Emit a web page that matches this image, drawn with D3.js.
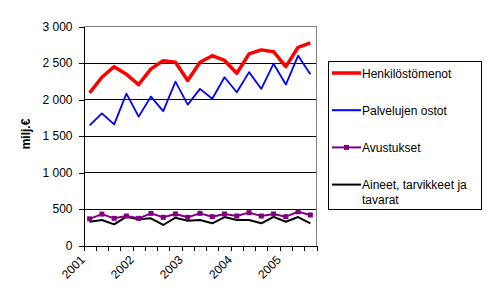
<!DOCTYPE html>
<html>
<head>
<meta charset="utf-8">
<script src="https://cdn.jsdelivr.net/npm/d3@7"></script>
<style>
  body { margin: 0; background: #fff; }
  text { font-family: Arial, "Liberation Sans", sans-serif; }
</style>
</head>
<body>
<svg></svg>
<script>

// quarterly data 2001 Q1 .. 2005 Q3, milj. €
var quarters = ["2001Q1","2001Q2","2001Q3","2001Q4",
                "2002Q1","2002Q2","2002Q3","2002Q4",
                "2003Q1","2003Q2","2003Q3","2003Q4",
                "2004Q1","2004Q2","2004Q3","2004Q4",
                "2005Q1","2005Q2","2005Q3"];
var years = ["2001","2002","2003","2004","2005"];
var yTicks = [0, 500, 1000, 1500, 2000, 2500, 3000];

var henkilostomenot = [2090, 2305, 2450, 2345, 2205, 2420, 2530, 2510, 2260, 2510,
                       2600, 2535, 2360, 2625, 2680, 2655, 2450, 2715, 2775];
var palvelujenOstot = [1645, 1810, 1660, 2080, 1765, 2040, 1840, 2245, 1930, 2145,
                       2010, 2305, 2100, 2375, 2145, 2490, 2205, 2600, 2345];
var avustukset      = [365, 430, 372, 404, 372, 440, 386, 432, 386, 440,
                       395, 432, 404, 450, 404, 432, 395, 462, 418];
var aineet          = [326, 349, 290, 395, 359, 372, 281, 381, 340, 349,
                       304, 390, 349, 349, 304, 392, 326, 390, 304];

var seriesNames = ["Henkilöstömenot", "Palvelujen ostot", "Avustukset", "Aineet, tarvikkeet ja tavarat"];

var width = 490, height = 300;
var svg = d3.select("svg").attr("width", width).attr("height", height);

var plotLeft = 83.5, plotRight = 316.5, plotTop = 26.5, plotBottom = 245.5;

var x = d3.scaleBand().domain(quarters).range([plotLeft, plotRight]);
var xt = d3.scaleLinear().domain([0, quarters.length]).range([plotLeft, plotRight]);
var y = d3.scaleLinear().domain([0, 3000]).range([plotBottom, plotTop]);

var fmt = d3.formatLocale({decimal: ",", thousands: " ", grouping: [3], currency: ["", "€"]}).format(",d");

// gridlines
svg.append("g")
  .selectAll("line")
  .data(yTicks.slice(1, -1)).enter()
  .append("line")
    .attr("x1", plotLeft).attr("x2", plotRight)
    .attr("y1", function(d) { return y(d); })
    .attr("y2", function(d) { return y(d); })
    .attr("stroke", "#000")
    .attr("shape-rendering", "crispEdges");

// plot area border (top + right gray)
svg.append("path")
  .attr("d", "M" + plotLeft + "," + plotTop + "H" + plotRight + "V" + plotBottom)
  .attr("fill", "none")
  .attr("stroke", "#808080")
  .attr("shape-rendering", "crispEdges");

// y axis
var yAxis = svg.append("g")
  .attr("transform", "translate(" + plotLeft + ",0)")
  .call(d3.axisLeft(y).tickValues(yTicks).tickSizeInner(5).tickSizeOuter(0).tickPadding(6).tickFormat(fmt));
yAxis.selectAll("path, line").attr("stroke", "#000").attr("shape-rendering", "crispEdges");
yAxis.selectAll("text").attr("font-size", 12).attr("fill", "#000")
  .attr("font-family", "Arial, 'Liberation Sans', sans-serif");

// x axis ticks at category boundaries
var xAxis = svg.append("g")
  .attr("transform", "translate(0," + plotBottom + ")")
  .call(d3.axisBottom(xt).tickValues(d3.range(quarters.length + 1)).tickSizeInner(5).tickSizeOuter(0).tickFormat(""));
xAxis.selectAll("path, line").attr("stroke", "#000").attr("shape-rendering", "crispEdges");

// year labels, rotated
svg.append("g")
  .selectAll("text")
  .data(years).enter()
  .append("text")
    .attr("transform", function(d, i) {
      var cx = x(quarters[i * 4]) + x.bandwidth() / 2 - 4;
      return "translate(" + cx + "," + (plotBottom + 15) + ") rotate(-45)";
    })
    .attr("text-anchor", "end")
    .attr("font-size", 12)
    .attr("fill", "#000")
    .text(function(d) { return d; });

// y axis title
svg.append("text")
  .attr("transform", "translate(30,134) rotate(-90)")
  .attr("text-anchor", "middle")
  .attr("font-size", 12)
  .attr("font-weight", "bold")
  .text("milj.€");

var line = d3.line()
  .x(function(d, i) { return x(quarters[i]) + x.bandwidth() / 2; })
  .y(function(d) { return y(d); });

var series = [
  {name: seriesNames[0], values: henkilostomenot, color: "#ff0000", width: 3.5},
  {name: seriesNames[1], values: palvelujenOstot, color: "#0000ff", width: 1.8},
  {name: seriesNames[3], values: aineet, color: "#000000", width: 2},
  {name: seriesNames[2], values: avustukset, color: "#800080", width: 2, markers: true}
];

series.forEach(function(s) {
  svg.append("path")
    .datum(s.values)
    .attr("fill", "none")
    .attr("stroke", s.color)
    .attr("stroke-width", s.width)
    .attr("stroke-linejoin", "round")
    .attr("d", line);
  if (s.markers) {
    svg.append("g")
      .selectAll("rect")
      .data(s.values).enter()
      .append("rect")
        .attr("x", function(d, i) { return x(quarters[i]) + x.bandwidth() / 2 - 2.5; })
        .attr("y", function(d) { return y(d) - 2.5; })
        .attr("width", 5).attr("height", 5)
        .attr("fill", s.color);
  }
});

// legend
var legend = svg.append("g").attr("class", "legend");
legend.append("rect")
  .attr("x", 328.5).attr("y", 61.5)
  .attr("width", 153).attr("height", 148)
  .attr("fill", "#fff").attr("stroke", "#000");

var legendItems = [
  {lines: [seriesNames[0]], color: "#ff0000", width: 3.5},
  {lines: [seriesNames[1]], color: "#0000ff", width: 2},
  {lines: [seriesNames[2]], color: "#800080", width: 2, markers: true},
  {lines: ["Aineet, tarvikkeet ja", "tavarat"], color: "#000000", width: 2}
];

legendItems.forEach(function(d, i) {
  var ly = 73 + i * 37.2;
  var g = legend.append("g");
  g.append("line")
    .attr("x1", 332).attr("x2", 361)
    .attr("y1", ly).attr("y2", ly)
    .attr("stroke", d.color).attr("stroke-width", d.width);
  if (d.markers) {
    g.append("rect").attr("x", 344).attr("y", ly - 2.5).attr("width", 5).attr("height", 5).attr("fill", d.color);
  }
  d.lines.forEach(function(t, j) {
    g.append("text")
      .attr("x", 362).attr("y", ly + 4.5 + j * 15)
      .attr("font-size", 12)
      .text(t);
  });
});

</script>
</body>
</html>
